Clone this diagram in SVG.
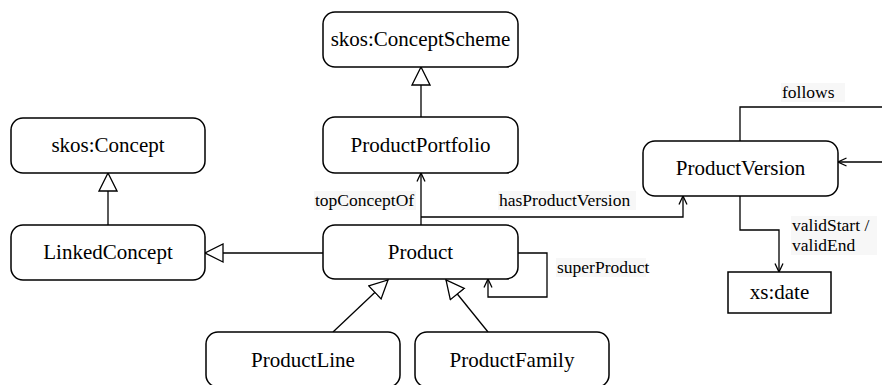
<svg xmlns="http://www.w3.org/2000/svg" width="882" height="385" viewBox="0 0 882 385">
<style>
.node rect{fill:#fff;stroke:#000;stroke-width:1.5}
.node text{font-size:21px;text-anchor:middle;fill:#000}
.edge{fill:none;stroke:#000;stroke-width:1.3}
.lbl{font-size:17.5px;fill:#000}
.lblbg{fill:#f7f7f7}
</style>
<defs>
<marker id="gen" viewBox="0 0 20 20" markerWidth="20" markerHeight="20" refX="19" refY="10" orient="auto" markerUnits="userSpaceOnUse">
<path d="M1,1 L19,10 L1,19 Z" fill="#fff" stroke="#000" stroke-width="1.3"/>
</marker>
<marker id="arr" viewBox="0 0 10 10" markerWidth="10" markerHeight="10" refX="9.5" refY="5" orient="auto" markerUnits="userSpaceOnUse">
<path d="M1,1 L9.5,5 L1,9" fill="none" stroke="#000" stroke-width="1.3"/>
</marker>
</defs>
<rect width="882" height="385" fill="#fff"/>
<g id="diagram" font-family="'Liberation Serif', 'DejaVu Serif', serif">
<g id="labels-bg">
<rect class="lblbg" x="314" y="191" width="102" height="19"/>
<rect class="lblbg" x="498" y="191" width="138" height="19"/>
<rect class="lblbg" x="556" y="258" width="90" height="19"/>
<rect class="lblbg" x="781" y="83" width="64" height="19"/>
<rect class="lblbg" x="791" y="216" width="86" height="39"/>
</g>
<g id="connectors">
<path class="edge" d="M421,117 V67" marker-end="url(#gen)"/>
<path class="edge" d="M108,225 V173" marker-end="url(#gen)"/>
<path class="edge" d="M323,253 H205" marker-end="url(#gen)"/>
<path class="edge" d="M333,332 L388,280" marker-end="url(#gen)"/>
<path class="edge" d="M488,332 L446,280" marker-end="url(#gen)"/>
<path class="edge" d="M421,225 V173" marker-end="url(#arr)"/>
<path class="edge" d="M421,217 H683 V196" marker-end="url(#arr)"/>
<path class="edge" d="M518,253 H547 V297 H488 V279" marker-end="url(#arr)"/>
<path class="edge" d="M740,141 V107 H882"/>
<path class="edge" d="M882,162 H838" marker-end="url(#arr)"/>
<path class="edge" d="M740,196 V230 H779 V272" marker-end="url(#arr)"/>
<text class="lbl" x="315" y="206">topConceptOf</text>
<text class="lbl" x="499" y="206">hasProductVersion</text>
<text class="lbl" x="557" y="273">superProduct</text>
<text class="lbl" x="782" y="98">follows</text>
<text class="lbl" x="792" y="231">validStart /</text>
<text class="lbl" x="792" y="251">validEnd</text>
</g>
<g id="n-conceptscheme" class="node"><rect x="323" y="12" width="195" height="55" rx="12"/><text x="420.5" y="46">skos:ConceptScheme</text></g>
<g id="n-productportfolio" class="node"><rect x="323" y="117" width="195" height="56" rx="12"/><text x="420.5" y="152">ProductPortfolio</text></g>
<g id="n-concept" class="node"><rect x="11" y="118" width="194" height="55" rx="12"/><text x="108" y="152">skos:Concept</text></g>
<g id="n-linkedconcept" class="node"><rect x="11" y="225" width="194" height="55" rx="12"/><text x="108" y="259">LinkedConcept</text></g>
<g id="n-product" class="node"><rect x="323" y="225" width="195" height="54" rx="12"/><text x="420.5" y="259">Product</text></g>
<g id="n-productversion" class="node"><rect x="643" y="141" width="195" height="55" rx="12"/><text x="740.5" y="175">ProductVersion</text></g>
<g id="n-xsdate" class="node"><rect x="728" y="272" width="103" height="41"/><text x="779.5" y="299">xs:date</text></g>
<g id="n-productline" class="node"><rect x="206" y="332" width="194" height="55" rx="12"/><text x="303" y="367">ProductLine</text></g>
<g id="n-productfamily" class="node"><rect x="415" y="332" width="194" height="55" rx="12"/><text x="512" y="367">ProductFamily</text></g>
</g>
</svg>
